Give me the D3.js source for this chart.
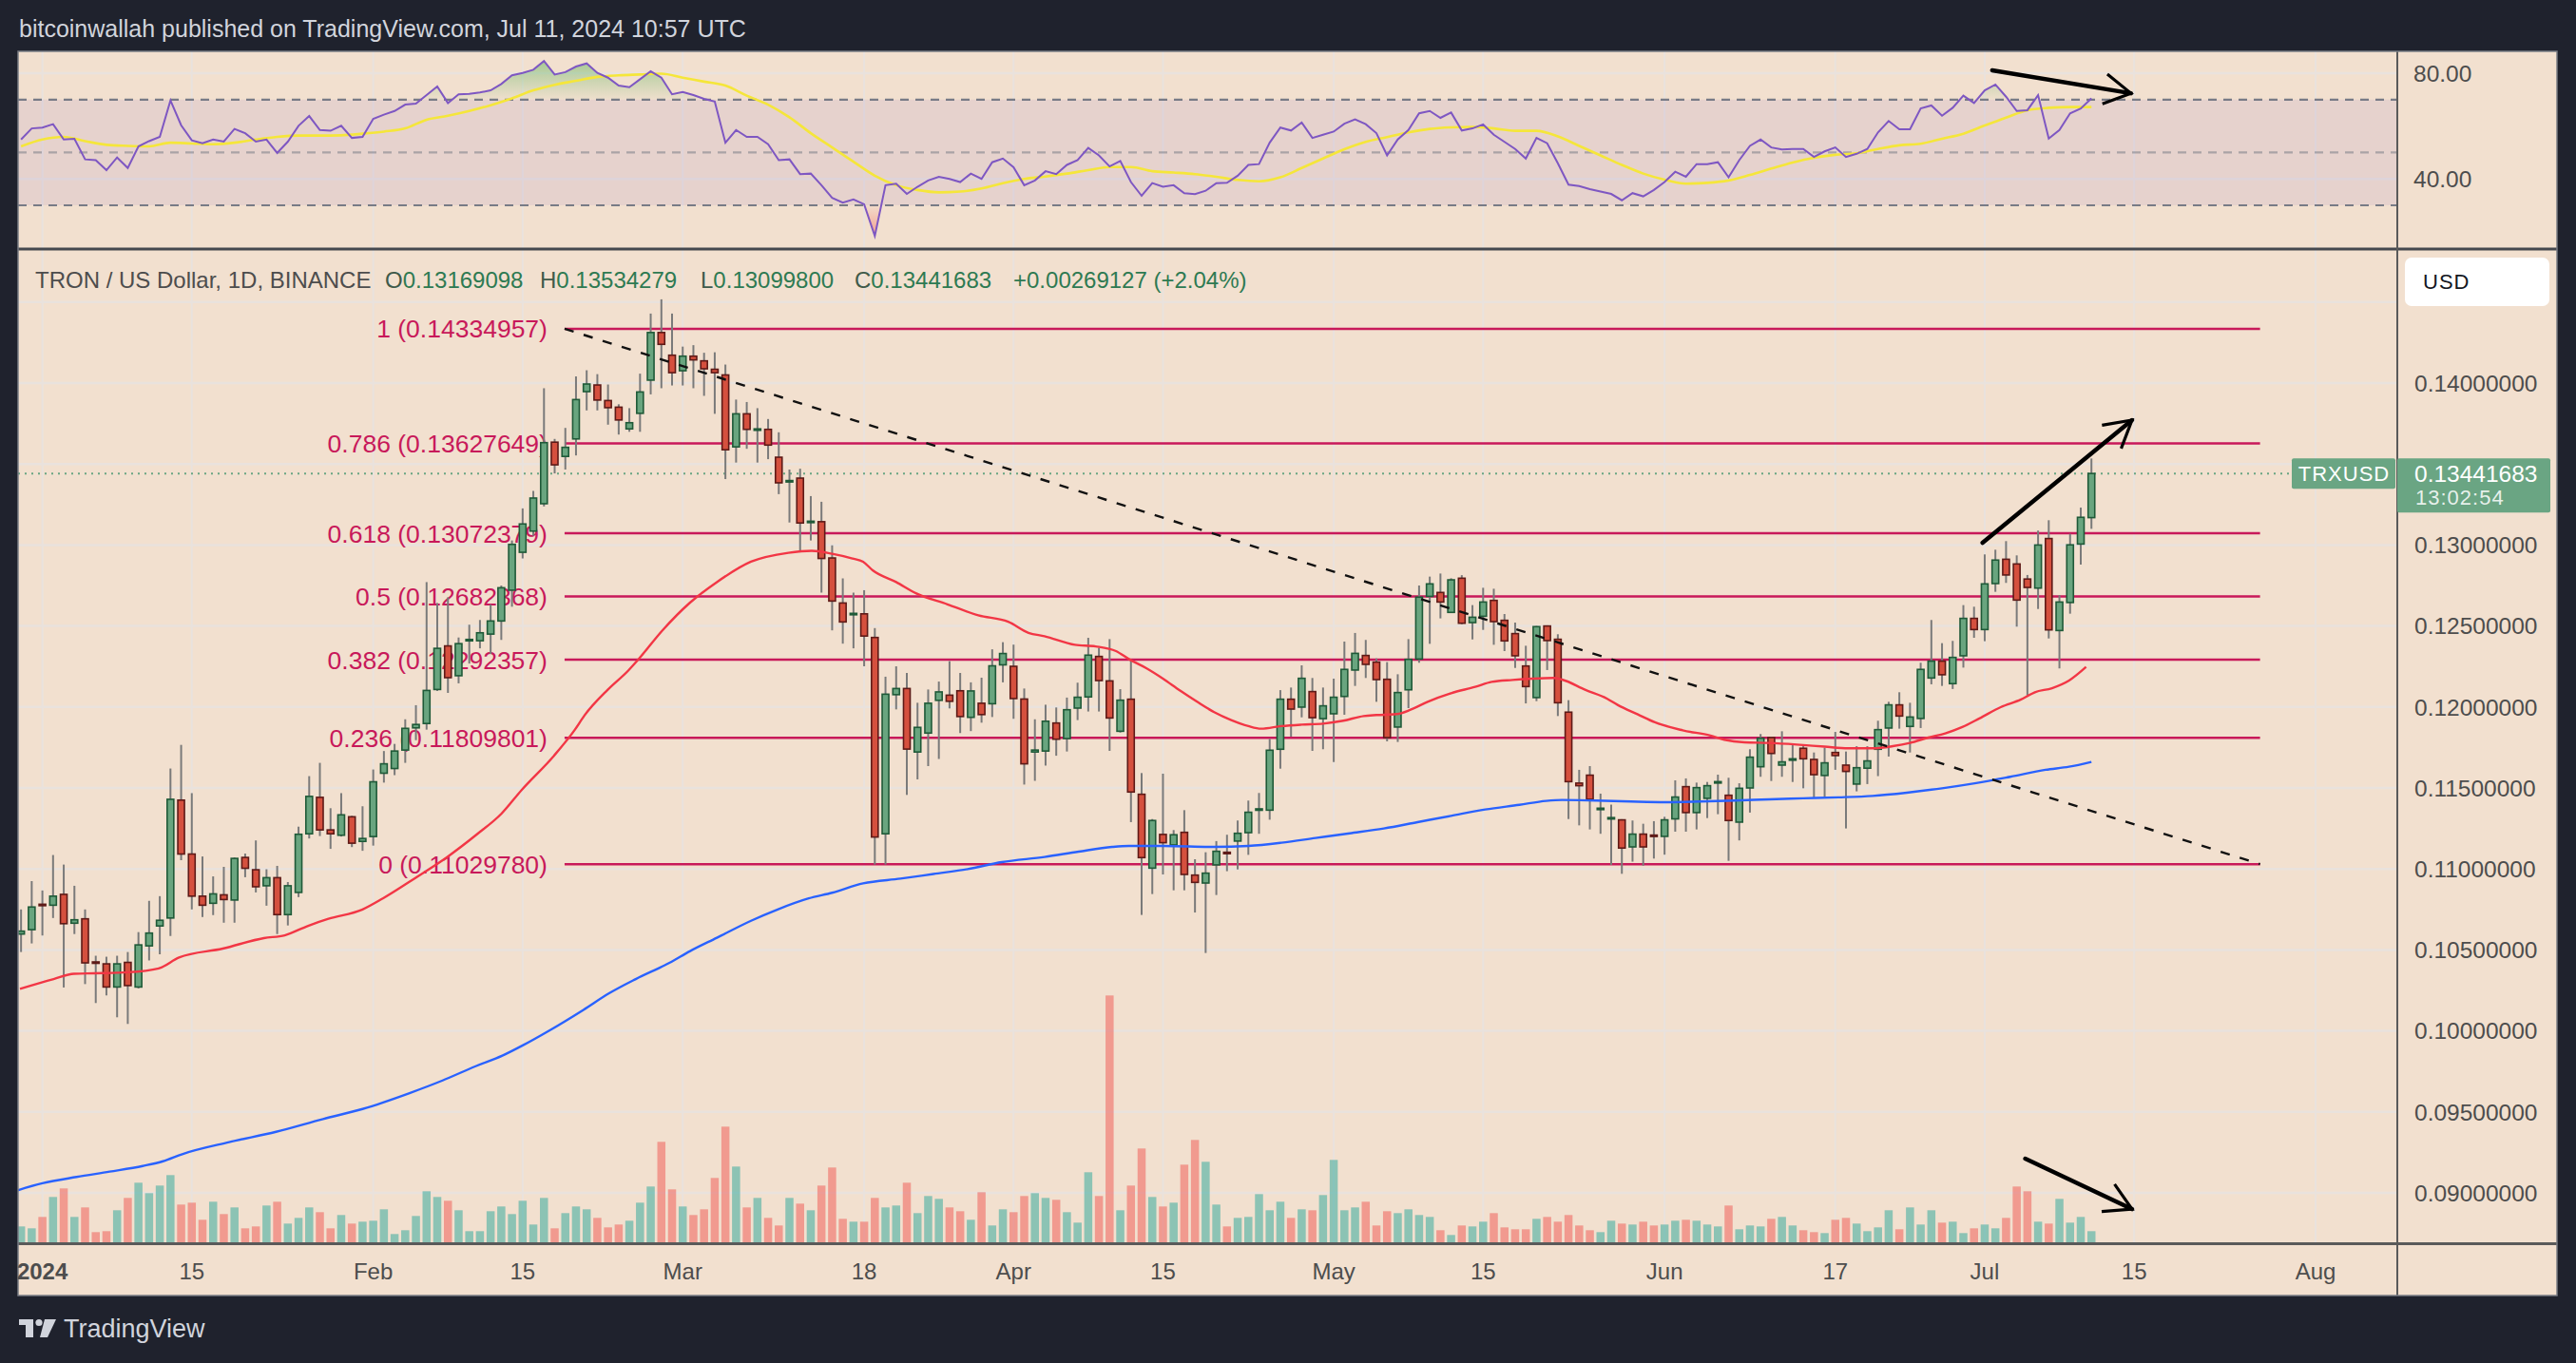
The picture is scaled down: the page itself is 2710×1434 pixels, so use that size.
<!DOCTYPE html>
<html><head><meta charset="utf-8">
<script src="https://cdn.jsdelivr.net/npm/d3@7"></script>
<style>
html,body{margin:0;padding:0;background:#1f222d;overflow:hidden;}
svg{display:block;}
text{font-family:"Liberation Sans",Arial,sans-serif;}
</style></head><body>
<svg id="c" width="2710" height="1434"></svg>
<script>
// ---------------- DATA ----------------
const startDate = "2023-12-30"; // first daily candle
const open = [
.10598,.10625,.10782,.10776,.10843,.10665,.10692,.10426,.10414,.10271,
.10423,.10271,.10525,.10648,.10697,.11425,.11092,.10832,.10788,.10840,
.10808,.11071,.10995,.10896,.10946,.10718,.10855,.11217,.11442,.11241,
.11208,.11322,.11170,.11200,.11591,.11620,.11734,.11871,.11898,.12108,
.12377,.12193,.12409,.12409,.12450,.12531,.12721,.12955,.13086,.13255,
.13635,.13547,.13655,.13947,.13988,.13892,.13851,.13717,.13813,.14018,
.14312,.14172,.14076,.14166,.14137,.14085,.14050,.13606,.13810,.13711,
.13714,.13542,.13393,.13413,.13142,.13144,.12920,.12642,.12572,.12575,
.12429,.11217,.12076,.12114,.11722,.11839,.12041,.12073,.12100,.11936,
.12023,.12020,.12260,.12251,.12049,.11722,.11728,.11901,.11805,.11993,
.12062,.12312,.12161,.11850,.12048,.11461,.11005,.11213,.11148,.11226,
.10962,.10913,.11025,.11103,.11172,.11224,.11363,.11363,.11739,.12048,
.11999,.12095,.11928,.11958,.12065,.12228,.12318,.12277,.12171,.11876,
.12106,.12296,.12683,.12707,.12584,.12795,.12521,.12560,.12658,.12535,
.12453,.12253,.12058,.12500,.12418,.11968,.11530,.11579,.11371,.11313,
.11303,.11136,.11215,.11209,.11201,.11309,.11508,.11348,.11436,.11535,
.11455,.11289,.11500,.11631,.11811,.11641,.11676,.11745,.11676,.11577,
.11719,.11641,.11524,.11622,.11739,.11870,.12013,.11880,.11929,.12179,
.12283,.12144,.12316,.12547,.12478,.12762,.12912,.12883,.12790,.12734,
.13040,.12472,.12645,.13006,.13169098];
const high = [
.10750,.10925,.10867,.11086,.11027,.10896,.10750,.10464,.10458,.10464,
.10487,.10610,.10803,.10832,.11620,.11766,.11468,.11077,.10954,.11013,
.11071,.11095,.11176,.10998,.11019,.10919,.11261,.11573,.11655,.11375,
.11468,.11328,.11387,.11614,.11728,.11772,.11924,.12011,.12771,.12642,
.12677,.12429,.12508,.12537,.12633,.12750,.13028,.13226,.13334,.13968,
.13655,.13723,.14041,.14079,.14055,.13991,.13869,.13845,.14058,.14429,
.14517,.14429,.14225,.14234,.14187,.14190,.14114,.13898,.13883,.13845,
.13778,.13696,.13466,.13471,.13302,.13267,.12998,.12794,.12706,.12721,
.12487,.12187,.12251,.12210,.12026,.12108,.12157,.12283,.12210,.12152,
.12181,.12356,.12400,.12385,.12114,.11924,.12014,.11997,.12058,.12150,
.12427,.12365,.12419,.12110,.12286,.11592,.11308,.11588,.11240,.11363,
.11060,.11103,.11172,.11211,.11299,.11422,.11469,.11803,.12104,.12120,
.12257,.12179,.12120,.12175,.12404,.12457,.12414,.12300,.12277,.12202,
.12419,.12750,.12805,.12824,.12795,.12814,.12629,.12736,.12730,.12574,
.12521,.12378,.12500,.12504,.12449,.12042,.11612,.11635,.11465,.11397,
.11307,.11299,.11279,.11295,.11322,.11547,.11559,.11533,.11537,.11582,
.11563,.11529,.11739,.11833,.11817,.11850,.11764,.11758,.11719,.11749,
.11846,.11725,.11758,.11758,.11915,.12032,.12091,.12026,.12273,.12537,
.12394,.12408,.12629,.12619,.12942,.12971,.13024,.12936,.12815,.13089,
.13153,.12691,.13069,.13231,.13534279];
const low = [
.10487,.10540,.10589,.10697,.10268,.10598,.10289,.10172,.10219,.10084,
.10043,.10262,.10435,.10473,.10586,.11054,.10750,.10703,.10715,.10668,
.10668,.10949,.10855,.10773,.10598,.10651,.10826,.11188,.11203,.11124,
.11200,.11135,.11112,.11144,.11533,.11579,.11655,.11795,.11860,.12099,
.12087,.12146,.12268,.12362,.12327,.12414,.12619,.12917,.13057,.13238,
.13442,.13466,.13553,.13831,.13831,.13743,.13682,.13699,.13699,.13930,
.13968,.13985,.13985,.13968,.13921,.13810,.13407,.13509,.13594,.13509,
.13530,.13314,.13139,.12955,.13028,.12706,.12473,.12391,.12362,.12251,
.11027,.11027,.11985,.11457,.11553,.11635,.11679,.11991,.11839,.11851,
.11903,.11938,.12152,.11927,.11521,.11544,.11638,.11699,.11725,.11919,
.11972,.11972,.11729,.11842,.11289,.10716,.10845,.10966,.10868,.10868,
.10731,.10481,.10839,.10986,.10997,.11087,.11217,.11304,.11619,.11817,
.11936,.11729,.11739,.11660,.11952,.12130,.12179,.12032,.11788,.11784,
.11993,.12273,.12390,.12547,.12580,.12511,.12417,.12476,.12384,.12345,
.12241,.12022,.12036,.12228,.11944,.11308,.11269,.11244,.11217,.11025,
.10970,.11045,.11020,.11064,.11088,.11230,.11230,.11244,.11314,.11338,
.11050,.11176,.11348,.11569,.11543,.11569,.11537,.11498,.11436,.11440,
.11612,.11250,.11479,.11524,.11573,.11694,.11866,.11719,.11870,.12140,
.12130,.12111,.12243,.12427,.12406,.12711,.12766,.12496,.12071,.12605,
.12423,.12238,.12576,.12879,.13099800];
const close = [
.10616,.10765,.10776,.10832,.10662,.10686,.10420,.10420,.10271,.10414,
.10280,.10531,.10604,.10683,.11430,.11092,.10832,.10776,.10846,.10811,
.11065,.11004,.10890,.10946,.10718,.10896,.11214,.11448,.11241,.11217,
.11334,.11159,.11188,.11538,.11649,.11728,.11868,.11892,.12102,.12362,
.12181,.12391,.12417,.12458,.12531,.12736,.13004,.13130,.13290,.13632,
.13495,.13603,.13898,.13994,.13895,.13848,.13772,.13755,.13945,.14312,
.14239,.14064,.14166,.14143,.14088,.14064,.13588,.13810,.13714,.13717,
.13617,.13384,.13398,.13136,.13147,.12917,.12654,.12525,.12578,.12438,
.11197,.12079,.12114,.11740,.11874,.12023,.12093,.12035,.11941,.12099,
.11953,.12254,.12330,.12052,.11649,.11734,.11912,.11801,.11983,.12060,
.12320,.12163,.11932,.12042,.11475,.11070,.11299,.11162,.11211,.10966,
.10917,.10974,.11109,.11099,.11220,.11350,.11371,.11733,.12048,.11987,
.12177,.11934,.12007,.12060,.12232,.12331,.12263,.12169,.11811,.12089,
.12294,.12678,.12760,.12648,.12785,.12517,.12554,.12648,.12527,.12408,
.12316,.12126,.12496,.12410,.12026,.11539,.11514,.11430,.11375,.11317,
.11129,.11215,.11136,.11205,.11303,.11444,.11348,.11502,.11514,.11539,
.11299,.11498,.11690,.11807,.11713,.11661,.11680,.11680,.11582,.11655,
.11700,.11602,.11625,.11667,.11860,.12013,.11944,.11938,.12232,.12283,
.12199,.12306,.12547,.12478,.12760,.12907,.12815,.12660,.12738,.13000,
.12476,.12648,.13001,.13171,.13441683];
const volume = [
50,44,80,143,170,80,110,32,35,101,
140,188,155,179,212,119,125,71,128,89,
110,44,50,116,128,59,77,110,95,44,
86,59,65,68,104,26,38,83,161,143,
131,101,35,35,98,113,89,131,56,140,
44,92,113,104,77,47,56,68,125,176,
317,167,113,86,104,203,365,239,110,140,
77,53,140,122,101,179,236,74,65,65,
140,110,116,188,92,146,137,110,98,71,
158,53,104,95,146,155,140,134,95,62,
221,146,779,101,179,296,143,113,125,245,
323,254,119,50,77,80,152,101,128,77,
104,101,149,260,101,110,128,53,98,92,
104,86,80,38,23,53,50,65,92,47,
41,41,74,80,65,86,53,38,32,68,
59,56,65,53,56,68,71,68,56,50,
116,41,53,50,74,80,53,38,32,29,
71,77,59,35,47,101,41,110,56,101,
62,65,29,44,56,44,77,176,161,65,
59,137,62,80,35];
const rsi = [
54.9,59.1,59.4,60.7,54.9,55.2,47.4,47.1,43.3,48.1,
44.1,52.3,54.3,55.9,69.7,60.3,54.6,53.5,54.9,54.1,
58.9,57.3,54.1,54.9,49.8,54.1,60.1,63.8,58.5,58.2,
60.1,55.5,55.9,62.7,64.3,65.7,68.1,68.5,71.7,75.0,
68.7,72.0,72.2,72.7,73.5,75.9,79.2,80.1,81.3,84.6,
79.5,80.4,82.5,83.7,80.1,78.3,75.3,74.7,77.7,80.7,
78.3,72.0,72.9,71.7,70.3,69.3,53.7,58.5,55.9,55.9,
53.1,47.1,47.4,41.8,42.0,37.6,32.8,31.0,32.2,30.4,
18.4,37.6,38.2,34.3,37.0,39.4,40.8,40.0,38.8,42.0,
40.0,46.3,47.7,44.4,37.6,39.4,42.9,41.8,45.3,47.1,
51.7,48.9,44.7,46.8,38.8,33.6,38.4,37.0,37.6,34.6,
34.2,35.5,38.4,38.5,41.2,45.3,45.6,53.7,59.4,58.3,
61.3,55.5,56.7,57.9,60.9,62.5,60.7,57.3,48.9,54.9,
58.5,64.8,65.7,63.1,65.1,58.3,59.1,60.6,56.7,54.0,
51.3,47.7,55.5,53.5,45.9,37.8,37.3,36.1,35.2,34.3,
31.9,34.6,33.4,35.8,38.8,42.7,40.8,45.6,45.6,46.3,
40.6,47.1,52.5,54.9,51.9,51.1,51.3,51.3,48.3,50.4,
51.9,48.3,49.5,51.3,57.6,61.9,58.8,58.8,66.7,67.8,
63.9,66.9,71.5,68.7,73.5,75.7,71.1,65.7,66.0,71.7,
55.3,58.5,64.8,66.6,70.5];
// RSI-based MA (days counted from 2024-01-01)
const rsiMaDay = [-2,0,2,4,6,8,10,12,14,16,18,20,22,24,26,28,30,32,34,36,38,40,42,44,46,48,50,52,54,56,58,60,62,64,66,68,70,72,74,76,78,80,82,84,86,88,90,92,94,96,98,100,102,104,106,108,110,112,114,116,118,120,122,124,126,128,130,132,134,136,138,140,142,144,146,148,150,152,154,156,158,160,162,164,166,168,170,172,174,176,178,180,182,184,186,188,190,192];
const rsiMaVal = [52.3,54.9,55.9,54.3,52.9,52.5,52.3,53.7,53.4,53.1,53.7,54.9,55.9,56.4,56.4,56.5,57.1,57.9,59.1,62.4,63.9,65.7,67.9,70.5,73.5,75.6,77.1,78.6,79.2,79.5,79.8,78.3,76.8,75.3,71.5,68.1,63.3,57.3,51.9,46.5,41.2,37.6,35.8,34.9,35.2,36.4,38.4,40.0,40.9,42.0,43.3,44.5,44.5,42.9,42.4,41.8,40.8,39.6,39.1,40.6,44.1,47.7,51.2,54.0,55.8,57.6,58.9,59.5,59.7,59.1,58.2,58.2,56.1,52.5,48.9,45.3,42.0,39.7,38.2,38.5,39.4,41.5,43.9,46.2,48.0,49.1,49.7,51.3,52.7,53.3,55.2,57.1,60.2,63.2,66.0,66.9,67.2,67.2];
// 50-day SMA (red)
const ma50Day = [-2.1,1.05,2.96,4.87,8.04,10.9,12.8,16.9,20.75,22.7,24.9,26.8,30,31.9,35.05,37.9,40.8,43,44.9,47.95,49.9,50.8,53,54.9,55.9,58.1,60.66,63.2,66.4,69.9,72.1,74,75.9,76.9,77.8,80,81.9,84.8,87.7,90.5,92.4,93.9,96.75,98.7,100.6,101.8,103.4,105,106.6,108.2,109.8,111.4,113,114.2,116.1,118,120,121.9,123.8,125,126.9,128.2,129.8,132,134.25,135.8,137.75,139.65,141.6,142.4,144.6,146.6,147.6,149.5,151.1,153.7,156.3,157.6,159.5,161.8,164.4,167,169.2,171.5,173.4,175,176.7,178.3,179.9,181.5,183.5,185.4,186.7,188.3,189.9,191.5];
const ma50Val = [0.1026,0.1032,0.10353,0.10356,0.10362,0.10386,0.10453,0.10508,0.10573,0.1059,0.10649,0.10692,0.1075,0.10818,0.10949,0.11072,0.11218,0.1134,0.11487,0.117,0.1186,0.11948,0.12108,0.12225,0.12298,0.12473,0.12643,0.12771,0.12897,0.12952,0.12964,0.12946,0.12917,0.12897,0.12844,0.12771,0.12701,0.12634,0.12566,0.12526,0.12458,0.12437,0.12384,0.12374,0.12345,0.12296,0.12241,0.12175,0.12101,0.12032,0.11968,0.11919,0.11882,0.11866,0.11882,0.11891,0.11897,0.11915,0.11944,0.1195,0.11956,0.11983,0.12032,0.12085,0.12124,0.12155,0.12167,0.12175,0.12179,0.12169,0.12105,0.12052,0.12013,0.11954,0.11905,0.11856,0.11823,0.11798,0.11782,0.11778,0.11768,0.11755,0.11745,0.11745,0.11758,0.11778,0.11811,0.11837,0.11876,0.11929,0.11999,0.12046,0.12091,0.12116,0.12163,0.12247];
// 200-day SMA (blue)
const ma200Day = [-3.1,0,3.2,6.3,9.4,11.3,13.1,17.5,21.9,26.3,30,34.4,37.5,40.6,43.1,45,47.5,50.7,53.1,55.6,58.75,60.7,63.2,66.4,68.9,71.8,74,76.9,80.4,83.5,86.7,89.9,93.9,97.1,100.25,101.8,105,109.8,113,116.1,119.3,122.5,125.7,128.85,132,135.2,138.4,140.9,142.4,145.6,148.85,152.1,155.3,158.6,161.8,165,168.3,171.5,174.7,178,181.2,184.4,187.7,189.9,192];
const ma200Val = [0.09,0.09059,0.09098,0.09131,0.09166,0.09195,0.09239,0.09313,0.09377,0.09456,0.09518,0.09616,0.09694,0.09782,0.09847,0.0991,0.10002,0.1013,0.10232,0.1032,0.1042,0.10493,0.10575,0.1068,0.1075,0.10818,0.10853,0.10911,0.1094,0.10969,0.10999,0.11042,0.11074,0.11107,0.11136,0.11142,0.11142,0.11136,0.11142,0.11162,0.11191,0.1122,0.1125,0.11289,0.11328,0.11367,0.11396,0.1142,0.11426,0.11422,0.11416,0.11412,0.11416,0.11422,0.1143,0.11436,0.11442,0.11451,0.11471,0.11498,0.1153,0.11569,0.11612,0.11631,0.11661];
// Fibonacci retracement
const fibRatios = ["1","0.786","0.618","0.5","0.382","0.236","0"];
const fibPrices = [0.14334957,0.13627649,0.13072379,0.12682368,0.12292357,0.11809801,0.11029780];
const fibSpanDays = [48.93, 207.8];
// trend line (day, price)
const trendDays = [48.93, 207.8];
const trendPrices = [0.14334957, 0.11029780];
// hand-drawn arrows
const rsiArrowDays = [182.7, 195.7]; const rsiArrowVals = [81.1, 72.4];
const priceArrowDays = [181.8, 195.8]; const priceArrowVals = [0.13014, 0.13771];
const volArrowDays = [185.8, 195.8]; const volArrowVals = [0.09211, 0.0890];
// axes
const priceTicks = [0.09,0.095,0.10,0.105,0.11,0.115,0.12,0.125,0.13,0.135,0.14,0.145];
const priceTickLabels = [0.09,0.095,0.10,0.105,0.11,0.115,0.12,0.125,0.13,0.14]; // 0.135 / 0.145 sit under the tags
const rsiTicks = [80,40];
const rsiLevels = [70,50,30];
const timeTickDates = ["2024-01-01","2024-01-15","2024-02-01","2024-02-15","2024-03-01","2024-03-18","2024-04-01","2024-04-15","2024-05-01","2024-05-15","2024-06-01","2024-06-17","2024-07-01","2024-07-15","2024-08-01"];
const timeTickLabels = ["2024","15","Feb","15","Mar","18","Apr","15","May","15","Jun","17","Jul","15","Aug"];
const lastPrice = 0.13441683;
const countdown = "13:02:54";
const symbol = "TRXUSD";
const headerText = "bitcoinwallah published on TradingView.com, Jul 11, 2024 10:57 UTC";
const legendTitle = "TRON / US Dollar, 1D, BINANCE";
const legendKeys = ["O","H","L","C"];
const legendVals = ["0.13169098","0.13534279","0.13099800","0.13441683"];
const legendChange = "+0.00269127 (+2.04%)";

// ---------------- LAYOUT ----------------
const L = {left:19, right:2690, top:54, bottom:1363, plotR:2521, rsiB:261, priceT:263, priceB:1307};
const C = {bg:"#f2e0cf", grid:"#e9e2dd", up:"#69a57f", upB:"#1f5a38", dn:"#d5503e", dnB:"#5e1a17",
  wick:"#7a7a7a", fib:"#c8195a", text:"#4d4d4d", ma50:"#f23645", ma200:"#2962ff", rsi:"#7e57c2", rsiMa:"#f5e63a",
  volUp:"rgba(38,166,154,0.5)", volDn:"rgba(239,83,80,0.5)", tag:"#6aa583"};

const svg = d3.select("#c");
const parse = d3.utcParse("%Y-%m-%d");
const jan1 = parse("2024-01-01");
const x = d3.scaleUtc().domain([jan1, parse("2024-08-01")]).range([44.6, 2436]);
const dayX = d => x(new Date(jan1.getTime() + d*864e5));
const yP = d3.scaleLinear().domain([0.09, 0.14]).range([1255, 403]);
const yR = d3.scaleLinear().domain([30, 80]).range([216, 77]);
const yV = d3.scaleLinear().domain([0, 780]).range([L.priceB, L.priceB - 260]);
const start = parse(startDate);
const candles = open.map((o,i)=>({date:d3.utcDay.offset(start,i), o, h:high[i], l:low[i], c:close[i], v:volume[i], r:rsi[i]}));

svg.append("rect").attr("width",2710).attr("height",1434).attr("fill","#1f222d");
svg.append("text").attr("x",20).attr("y",39).attr("fill","#d1d4dc").attr("font-size",25).text(headerText);
svg.append("rect").attr("x",L.left).attr("y",L.top).attr("width",L.right-L.left).attr("height",L.bottom-L.top).attr("fill",C.bg);

const defs = svg.append("defs");
defs.append("clipPath").attr("id","rsiClip").append("rect").attr("x",L.left).attr("y",L.top).attr("width",L.plotR-L.left).attr("height",L.rsiB-L.top);
defs.append("clipPath").attr("id","priceClip").append("rect").attr("x",L.left).attr("y",L.priceT).attr("width",L.plotR-L.left).attr("height",L.priceB-L.priceT);
defs.append("clipPath").attr("id","obClip").append("rect").attr("x",L.left).attr("y",L.top).attr("width",L.plotR-L.left).attr("height",yR(70)-L.top);
defs.append("clipPath").attr("id","osClip").append("rect").attr("x",L.left).attr("y",yR(30)).attr("width",L.plotR-L.left).attr("height",L.rsiB-yR(30));
const gOB = defs.append("linearGradient").attr("id","obGrad").attr("gradientUnits","userSpaceOnUse").attr("x1",0).attr("x2",0).attr("y1",yR(70)).attr("y2",yR(86));
gOB.append("stop").attr("offset",0).attr("stop-color","#4caf50").attr("stop-opacity",0.02);
gOB.append("stop").attr("offset",1).attr("stop-color","#4caf50").attr("stop-opacity",0.5);
const gOS = defs.append("linearGradient").attr("id","osGrad").attr("gradientUnits","userSpaceOnUse").attr("x1",0).attr("x2",0).attr("y1",yR(30)).attr("y2",yR(16));
gOS.append("stop").attr("offset",0).attr("stop-color","#f44336").attr("stop-opacity",0.02);
gOS.append("stop").attr("offset",1).attr("stop-color","#f44336").attr("stop-opacity",0.5);

// vertical grid
const tDates = timeTickDates.map(parse);
svg.append("g").selectAll("line").data(tDates).join("line")
  .attr("x1",d=>x(d)).attr("x2",d=>x(d)).attr("y1",L.top).attr("y2",L.priceB)
  .attr("stroke",C.grid).attr("stroke-width",2);

// ---------------- RSI PANE ----------------
const gR = svg.append("g").attr("clip-path","url(#rsiClip)");
gR.selectAll("line.hg").data(rsiTicks).join("line").attr("class","hg")
  .attr("x1",L.left).attr("x2",L.plotR).attr("y1",d=>yR(d)).attr("y2",d=>yR(d)).attr("stroke",C.grid).attr("stroke-width",2.5);
gR.append("rect").attr("x",L.left).attr("width",L.plotR-L.left).attr("y",yR(70)).attr("height",yR(30)-yR(70)).attr("fill","rgba(126,87,194,0.1)");
gR.selectAll("line.lv").data(rsiLevels).join("line").attr("class","lv")
  .attr("x1",L.left).attr("x2",L.plotR).attr("y1",d=>yR(d)).attr("y2",d=>yR(d))
  .attr("stroke",d=>d===50?"rgba(120,123,134,0.55)":"#787b86").attr("stroke-width",2.2).attr("stroke-dasharray","9 7");
const rx = d=>x(d.date);
gR.append("path").datum(candles).attr("clip-path","url(#obClip)")
  .attr("d",d3.area().x(rx).y0(yR(70)).y1(d=>yR(d.r))).attr("fill","url(#obGrad)");
gR.append("path").datum(candles).attr("clip-path","url(#osClip)")
  .attr("d",d3.area().x(rx).y0(yR(30)).y1(d=>yR(d.r))).attr("fill","url(#osGrad)");
gR.append("path").datum(rsiMaDay.map((d,i)=>[d,rsiMaVal[i]]))
  .attr("d",d3.line().x(d=>dayX(d[0])).y(d=>yR(d[1])).curve(d3.curveMonotoneX))
  .attr("fill","none").attr("stroke",C.rsiMa).attr("stroke-width",2.6);
gR.append("path").datum(candles).attr("d",d3.line().x(rx).y(d=>yR(d.r)))
  .attr("fill","none").attr("stroke",C.rsi).attr("stroke-width",2);

// ---------------- PRICE PANE ----------------
const gP = svg.append("g").attr("clip-path","url(#priceClip)");
gP.selectAll("line.hg").data(priceTicks).join("line").attr("class","hg")
  .attr("x1",L.left).attr("x2",L.plotR).attr("y1",d=>yP(d)).attr("y2",d=>yP(d)).attr("stroke",C.grid).attr("stroke-width",2.5);
// volume
const bw = 8.5;
gP.selectAll("rect.vol").data(candles).join("rect").attr("class","vol")
  .attr("x",d=>x(d.date)-bw/2).attr("width",bw).attr("y",d=>yV(d.v)).attr("height",d=>yV(0)-yV(d.v))
  .attr("fill",d=>d.c>=d.o?C.volUp:C.volDn);
// fib
const fx0 = dayX(fibSpanDays[0]), fx1 = dayX(fibSpanDays[1]);
gP.selectAll("line.fib").data(fibPrices).join("line").attr("class","fib")
  .attr("x1",fx0).attr("x2",fx1).attr("y1",d=>yP(d)).attr("y2",d=>yP(d)).attr("stroke",C.fib).attr("stroke-width",2.5);
gP.selectAll("text.fib").data(fibPrices).join("text").attr("class","fib")
  .attr("x",fx0-18).attr("y",d=>yP(d)).attr("dy","0.36em").attr("text-anchor","end")
  .attr("fill",C.fib).attr("font-size",26.5).text((d,i)=>`${fibRatios[i]} (${d3.format(".8f")(d)})`);
// current price dotted line
gP.append("line").attr("x1",L.left).attr("x2",2411).attr("y1",yP(lastPrice)).attr("y2",yP(lastPrice))
  .attr("stroke",C.tag).attr("stroke-width",2).attr("stroke-dasharray","2 5");
// candles
const cg = gP.append("g");
cg.selectAll("line").data(candles).join("line")
  .attr("x1",d=>x(d.date)).attr("x2",d=>x(d.date)).attr("y1",d=>yP(d.h)).attr("y2",d=>yP(d.l))
  .attr("stroke",C.wick).attr("stroke-width",2);
const cw = 7;
cg.selectAll("rect").data(candles).join("rect")
  .attr("x",d=>x(d.date)-cw/2).attr("width",cw)
  .attr("y",d=>Math.min(yP(d.o),yP(d.c))).attr("height",d=>Math.max(1.5,Math.abs(yP(d.o)-yP(d.c))))
  .attr("fill",d=>d.c>=d.o?C.up:C.dn).attr("stroke",d=>d.c>=d.o?C.upB:C.dnB).attr("stroke-width",1.6);
// moving averages
const maLine = d3.line().x(d=>dayX(d[0])).y(d=>yP(d[1])).curve(d3.curveMonotoneX);
gP.append("path").datum(ma200Day.map((d,i)=>[d,ma200Val[i]])).attr("d",maLine).attr("fill","none").attr("stroke",C.ma200).attr("stroke-width",2.4);
gP.append("path").datum(ma50Day.map((d,i)=>[d,ma50Val[i]])).attr("d",maLine).attr("fill","none").attr("stroke",C.ma50).attr("stroke-width",2.4);
// trend line
gP.append("line").attr("x1",dayX(trendDays[0])).attr("y1",yP(trendPrices[0])).attr("x2",dayX(trendDays[1])).attr("y2",yP(trendPrices[1]))
  .attr("stroke","#111").attr("stroke-width",2.4).attr("stroke-dasharray","10 11");

// arrows
function arrow(g, p0, p1, w){
  g.append("line").attr("x1",p0[0]).attr("y1",p0[1]).attr("x2",p1[0]).attr("y2",p1[1])
    .attr("stroke","#000").attr("stroke-width",w).attr("stroke-linecap","round");
  const ang = Math.atan2(p1[1]-p0[1], p1[0]-p0[0]), len = 32, a = 0.52;
  const w1 = [p1[0]-len*Math.cos(ang-a), p1[1]-len*Math.sin(ang-a)];
  const w2 = [p1[0]-len*Math.cos(ang+a), p1[1]-len*Math.sin(ang+a)];
  g.append("path").attr("d",`M${w1}L${p1}L${w2}`).attr("fill","none").attr("stroke","#000").attr("stroke-width",3.2).attr("stroke-linejoin","miter");
}
const gA = svg.append("g");
arrow(gA,[dayX(rsiArrowDays[0]),yR(rsiArrowVals[0])],[dayX(rsiArrowDays[1]),yR(rsiArrowVals[1])],4.5);
arrow(gA,[dayX(priceArrowDays[0]),yP(priceArrowVals[0])],[dayX(priceArrowDays[1]),yP(priceArrowVals[1])],4.5);
arrow(gA,[dayX(volArrowDays[0]),yP(volArrowVals[0])],[dayX(volArrowDays[1]),yP(volArrowVals[1])],4.5);

// legend
const lg = svg.append("text").attr("y",303).attr("font-size",24);
lg.append("tspan").attr("x",37).attr("fill",C.text).text(legendTitle);
const legX = [405,568,737,899];
legendKeys.forEach((k,i)=>{
  lg.append("tspan").attr("x",legX[i]).attr("fill","#3f5a4a").text(k);
  lg.append("tspan").attr("fill","#2e7a52").text(legendVals[i]);
});
lg.append("tspan").attr("x",1066).attr("fill","#2e7a52").text(legendChange);

// symbol label on line
svg.append("rect").attr("x",2411).attr("y",yP(lastPrice)-16).attr("width",109).attr("height",32).attr("fill",C.tag).attr("rx",2);
svg.append("text").attr("x",2466).attr("y",yP(lastPrice)).attr("dy","0.36em").attr("text-anchor","middle").attr("fill","#fff").attr("font-size",22).attr("letter-spacing",1).text(symbol);

// separators
svg.append("line").attr("x1",L.left).attr("x2",L.right).attr("y1",262).attr("y2",262).attr("stroke","#45484f").attr("stroke-width",3);
svg.append("line").attr("x1",L.left).attr("x2",L.right).attr("y1",1308.5).attr("y2",1308.5).attr("stroke","#5a5a5a").attr("stroke-width",3);
svg.append("line").attr("x1",L.plotR+1).attr("x2",L.plotR+1).attr("y1",L.top).attr("y2",L.bottom).attr("stroke","#5a5a5a").attr("stroke-width",2);
svg.append("rect").attr("x",L.left).attr("y",L.top).attr("width",L.right-L.left).attr("height",L.bottom-L.top)
  .attr("fill","none").attr("stroke","#7a7d85").attr("stroke-width",1.5);

// price axis labels
const fmt = d3.format(".8f");
svg.append("g").selectAll("text").data(priceTickLabels).join("text")
  .attr("x",2540).attr("y",d=>yP(d)).attr("dy","0.36em").attr("fill",C.text).attr("font-size",24.5).text(d=>fmt(d));
svg.append("g").selectAll("text").data(rsiTicks).join("text")
  .attr("x",2539).attr("y",d=>yR(d)).attr("dy","0.36em").attr("fill",C.text).attr("font-size",24.5).text(d=>d3.format(".2f")(d));
// USD box
svg.append("rect").attr("x",2530).attr("y",271).attr("width",152).attr("height",51).attr("rx",7).attr("fill","#ffffff");
svg.append("text").attr("x",2549).attr("y",296.5).attr("dy","0.36em").attr("fill","#131722").attr("font-size",22).attr("letter-spacing",1).text("USD");
// last price tag
svg.append("rect").attr("x",2522).attr("y",yP(lastPrice)-16).attr("width",161).attr("height",57).attr("rx",2).attr("fill",C.tag);
svg.append("text").attr("x",2540).attr("y",yP(lastPrice)).attr("dy","0.36em").attr("fill","#fff").attr("font-size",24.5).text(fmt(lastPrice));
svg.append("text").attr("x",2541).attr("y",yP(lastPrice)+25).attr("dy","0.36em").attr("fill","rgba(255,255,255,0.85)").attr("font-size",22).attr("letter-spacing",1).text(countdown);

// time axis labels
svg.append("g").selectAll("text").data(tDates).join("text")
  .attr("x",d=>x(d)).attr("y",1337).attr("dy","0.36em").attr("text-anchor","middle")
  .attr("fill",C.text).attr("font-size",24).attr("font-weight",(d,i)=>i===0?"bold":"normal")
  .text((d,i)=>timeTickLabels[i]);

// TradingView logo
const lgo = svg.append("g").attr("fill","#d1d4dc");
lgo.append("rect").attr("x",20).attr("y",1388).attr("width",15).attr("height",6);
lgo.append("rect").attr("x",27).attr("y",1388).attr("width",8).attr("height",19);
lgo.append("circle").attr("cx",41).attr("cy",1391.5).attr("r",3.6);
lgo.append("path").attr("d","M47,1388 L59,1388 L50,1407 L42,1407 Z");
svg.append("text").attr("x",67).attr("y",1407).attr("fill","#d1d4dc").attr("font-size",27).text("TradingView");
</script>
</body></html>
